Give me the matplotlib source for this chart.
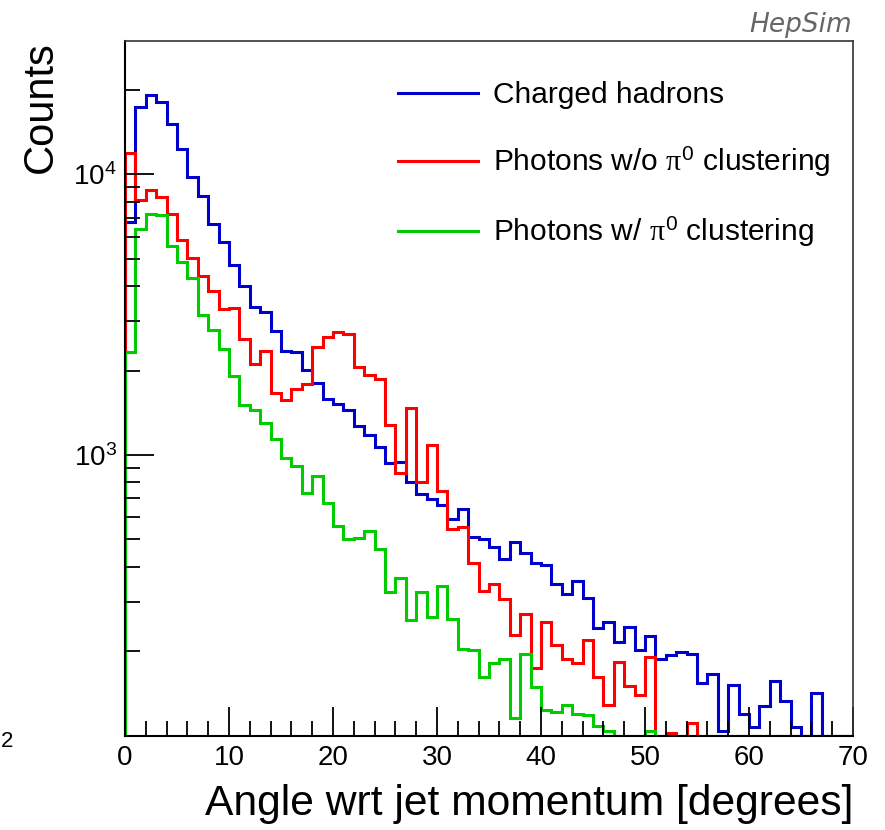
import numpy as np
import matplotlib
matplotlib.use("Agg")
import matplotlib.pyplot as plt

plt.rcParams['font.family'] = ['Liberation Sans', 'DejaVu Sans']
plt.rcParams['mathtext.fontset'] = 'custom'
plt.rcParams['mathtext.rm'] = 'Liberation Sans'
plt.rcParams['mathtext.it'] = 'Liberation Serif'
plt.rcParams['mathtext.bf'] = 'Liberation Sans:bold'

# 1-degree bins from 0 to 70
bin_edges = np.arange(0, 71, 1)

charged_hadrons = [
    6750, 17400, 19250, 18140, 15100, 12330, 9820, 8380, 6680, 5760,
    4770, 4005, 3361, 3243, 2767, 2349, 2323, 2009, 1801, 1583,
    1516, 1447, 1269, 1179, 1071, 934, 942, 803, 724, 697,
    663, 590, 642, 512, 500, 471, 425, 491, 446, 413,
    405, 347, 319, 355, 308, 241, 253, 216, 244, 202,
    226, 187, 194, 199, 196, 154, 166, 104, 151, 119,
    107, 127, 156, 133, 107, 0, 142, 0, 0, 0,
]

photons_no_pi0 = [
    11930, 8090, 8805, 8335, 7210, 5840, 5040, 4347, 3843, 3315,
    3330, 2585, 2105, 2355, 1668, 1567, 1719, 1787, 2432, 2641,
    2737, 2700, 2054, 1929, 1866, 1279, 865, 1467, 799, 1086,
    746, 545, 555, 411, 327, 347, 307, 228, 270, 174,
    254, 210, 187, 181, 219, 161, 128, 183, 150, 140,
    190, 0, 102, 0, 111, 0, 0, 0, 0, 0,
    0, 0, 0, 0, 0, 0, 0, 0, 0, 0,
]

photons_pi0 = [
    2336, 6393, 7233, 7170, 5576, 4864, 4260, 3148, 2790, 2387,
    1905, 1508, 1447, 1297, 1140, 978, 914, 732, 842, 675,
    560, 500, 505, 537, 461, 324, 365, 258, 324, 264,
    342, 260, 203, 202, 162, 181, 187, 115, 195, 149,
    123, 121, 128, 119, 118, 108, 104, 0, 0, 0,
    104, 0, 0, 0, 0, 0, 0, 0, 0, 0,
    0, 0, 0, 0, 0, 0, 0, 0, 0, 0,
]

labels = ["Charged hadrons",
          r"Photons w/o $\pi^{0}$ clustering",
          r"Photons w/ $\pi^{0}$ clustering"]
colors = ["#0000cc", "#ff0000", "#00cc00"]

y_min, y_max = 100, 29900

fig = plt.figure(figsize=(8.85, 8.30), dpi=100)
ax = fig.add_axes([125/885, 1-735.5/830, 728/885, 694.5/830])

for vals, lab, col in zip([charged_hadrons, photons_no_pi0, photons_pi0], labels, colors):
    v = np.clip(np.array(vals, dtype=float), y_min, None)
    ax.stairs(v, bin_edges, baseline=y_min, color=col, lw=2.2, label=lab)

ax.set_yscale('log')
ax.set_xlim(0, 70)
ax.set_ylim(y_min, y_max)

ax.set_xticks(np.arange(0, 71, 10))
ax.set_xticks(np.arange(0, 71, 2), minor=True)
ax.set_yticks([1e3, 1e4])
ax.set_yticks([m * 10**e for e in (2, 3, 4) for m in range(2, 10) if y_min < m * 10**e < y_max], minor=True)
ax.yaxis.set_minor_formatter(matplotlib.ticker.NullFormatter())

ax.tick_params(which='both', direction='in', top=False, right=False, labelsize=20, width=1.3)
ax.tick_params(which='major', length=21)
ax.tick_params(which='minor', length=11)
ax.tick_params(axis='x', pad=7)
ax.tick_params(axis='y', pad=6)

for s in ['left', 'bottom']:
    ax.spines[s].set_linewidth(1.5)
    ax.spines[s].set_color('black')
for s in ['top', 'right']:
    ax.spines[s].set_linewidth(1.2)
    ax.spines[s].set_color('#333333')

leg = ax.legend(loc='upper left', bbox_to_anchor=(398/885, 1-81/830), bbox_transform=fig.transFigure,
                frameon=False, fontsize=21.5, handlelength=2.68, handletextpad=0.5,
                labelspacing=1.22, borderpad=0, borderaxespad=0)
for line in leg.get_lines():
    line.set_linewidth(2.2)

fig.text(853/885, 1-815/830, "Angle wrt jet momentum [degrees]", ha='right', va='baseline', fontsize=30.7)
fig.text(61/885, 1-41/830, "Counts", rotation=90, ha='right', va='top', fontsize=30)
fig.text(852/885, 1-32/830, "HepSim", ha='right', va='baseline', fontsize=19,
         style='italic', color='#666666', family='DejaVu Sans')
fig.text(0.5/885, 1-741/830, "2", ha='left', va='center', fontsize=16)

plt.savefig('out.png', dpi=100)
